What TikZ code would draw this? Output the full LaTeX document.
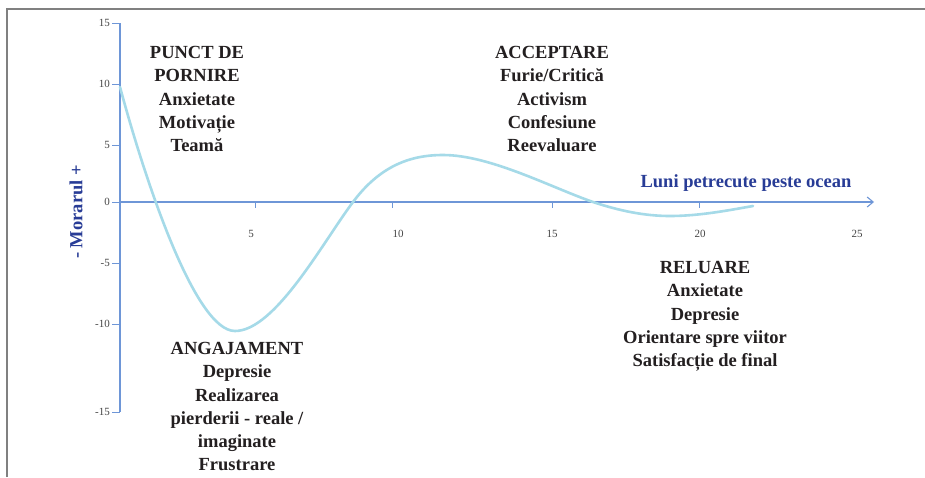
\documentclass[tikz,border=0pt]{standalone}
\usepackage{fontspec}
\setmainfont{Liberation Serif}
\usetikzlibrary{arrows.meta}
\definecolor{framegray}{RGB}{128,128,128}
\definecolor{axisblue}{RGB}{110,150,215}
\definecolor{curvecyan}{RGB}{165,218,232}
\definecolor{labelblue}{RGB}{40,60,150}
\definecolor{txt}{RGB}{35,31,32}
\definecolor{ticktxt}{RGB}{70,70,70}
\tikzset{
  stagetext/.style={font=\bfseries\fontsize{18.5}{23.3}\selectfont, text=txt, align=center, inner sep=0pt, anchor=north},
  ticklab/.style={font=\fontsize{11}{13}\selectfont, text=ticktxt, inner sep=0pt},
  axisline/.style={draw=axisblue, line width=1.1pt},
  tickline/.style={draw=axisblue, line width=0.9pt},
  bluelabel/.style={font=\bfseries\fontsize{18.5}{21}\selectfont, text=labelblue, inner sep=0pt}
}
\begin{document}
\begin{tikzpicture}[x=1pt,y=-1pt]
\useasboundingbox (0,0) rectangle (925,477);
\fill[white] (0,0) rectangle (925,477);
% frame
\draw[framegray, line width=2pt] (7,477) -- (7,9) -- (925,9);
% axes
\coordinate (yt) at (120,23);
\coordinate (yb) at (120,412);
\coordinate (xo) at (120,202);
\coordinate (xe) at (874,202);
\draw[axisline] (yt) -- (yb);
\draw[axisline, -{Straight Barb[length=6pt,width=10pt]}] (xo) -- (xe);
% y ticks
\foreach \v/\yy in {15/23,10/84,5/145,0/202,-5/263,-10/324,-15/412}{
  \draw[tickline] (112,\yy) -- (120,\yy);
  \node[ticklab, anchor=east] (yl\v) at (110,\yy) {\v};
}
% x ticks
\foreach \xx in {255,392,552,699}{
  \draw[tickline] (\xx,201) -- (\xx,208);
}
\node[ticklab] (xl5) at (251,234) {5};
\node[ticklab] (xl10) at (398,234) {10};
\node[ticklab] (xl15) at (552,234) {15};
\node[ticklab] (xl20) at (700,234) {20};
\node[ticklab] (xl25) at (857,234) {25};
% curve
\draw[curvecyan, line width=2.6pt, line cap=round]
  (120,87) .. controls (145,180) and (195,331) .. (235,331)
  .. controls (275,331) and (323,242) .. (353,202)
  .. controls (380,166) and (410,155) .. (443,155)
  .. controls (490,155) and (550,187) .. (593,202)
  .. controls (620,211) and (645,216) .. (670,216)
  .. controls (700,216) and (730,210) .. (753,206);
% axis labels
\node[bluelabel] (xlab) at (746,183) {Luni petrecute peste ocean};
\node[bluelabel, rotate=90] (ylab) at (76,212) {- Morarul +};
% stage texts
\node[stagetext] (start) at (197,46) {PUNCT DE\\PORNIRE\\Anxietate\\Motivație\\Teamă};
\node[stagetext] (accept) at (552,46) {ACCEPTARE\\Furie/Critică\\Activism\\Confesiune\\Reevaluare};
\node[stagetext] (engage) at (237,342) {ANGAJAMENT\\Depresie\\Realizarea\\pierderii - reale /\\imaginate\\Frustrare};
\node[stagetext] (resume) at (705,261) {RELUARE\\Anxietate\\Depresie\\Orientare spre viitor\\Satisfacție de final};
\end{tikzpicture}
\end{document}
